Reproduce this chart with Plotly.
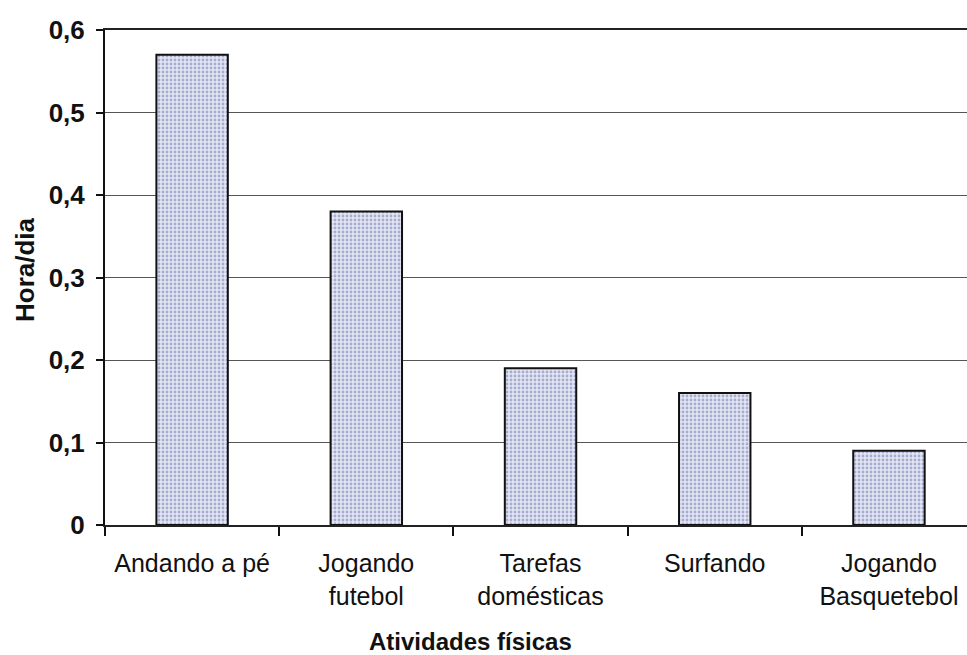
import plotly.graph_objects as go

# Tempo médio gasto por dia em cada atividade física
atividades = ["Andando a pé", "Jogando<br>futebol", "Tarefas<br>domésticas", "Surfando", "Jogando<br>Basquetebol"]
horas_dia = [0.57, 0.38, 0.19, 0.16, 0.09]
y_ticks = [0, 0.1, 0.2, 0.3, 0.4, 0.5, 0.6]
y_tick_text = ["0", "0,1", "0,2", "0,3", "0,4", "0,5", "0,6"]

FONT = "Liberation Sans, Arial, sans-serif"

fig = go.Figure(
    go.Bar(
        x=atividades,
        y=horas_dia,
        width=0.41,
        marker=dict(
            color="#e4e6f4",
            line=dict(color="#111111", width=2),
            pattern=dict(shape=".", fgcolor="#6a71a8", bgcolor="#e4e6f4", size=4, solidity=0.4),
        ),
        hoverinfo="x+y",
    )
)

fig.update_layout(
    width=967,
    height=655,
    margin=dict(l=105, r=0, t=30, b=130),
    paper_bgcolor="white",
    plot_bgcolor="white",
    separators=",.",
    showlegend=False,
    font=dict(family=FONT, color="#111111"),
)

fig.update_xaxes(
    type="category",
    range=[-0.5, 4.448],
    tickson="boundaries",
    ticks="outside",
    ticklen=9,
    tickwidth=1.5,
    tickcolor="#111111",
    showline=True,
    mirror=True,
    linecolor="#222222",
    linewidth=2,
    showgrid=False,
    tickfont=dict(size=25, family=FONT, color="#111111"),
    ticklabelstandoff=15,
)

fig.update_yaxes(
    range=[0, 0.6],
    tickvals=y_ticks,
    ticktext=y_tick_text,
    ticks="outside",
    ticklen=7,
    tickwidth=1.5,
    tickcolor="#111111",
    showline=True,
    linecolor="#111111",
    linewidth=2,
    showgrid=True,
    gridcolor="#555555",
    gridwidth=1,
    zeroline=False,
    tickfont=dict(size=26, family=FONT, color="#111111", weight="bold"),
    ticklabelstandoff=6,
)

fig.add_annotation(
    text="Atividades físicas",
    xref="paper", yref="paper",
    x=(470 - 105) / 862, y=-(641 - 525) / 495,
    xanchor="center", yanchor="middle",
    showarrow=False,
    font=dict(size=24, family=FONT, color="#111111", weight="bold"),
)
fig.add_annotation(
    text="Hora/dia",
    xref="paper", yref="paper",
    x=-(105 - 25) / 862, y=(525 - 270) / 495,
    xanchor="center", yanchor="middle",
    textangle=-90,
    showarrow=False,
    font=dict(size=26, family=FONT, color="#111111", weight="bold"),
)

fig.write_html("out.html")
